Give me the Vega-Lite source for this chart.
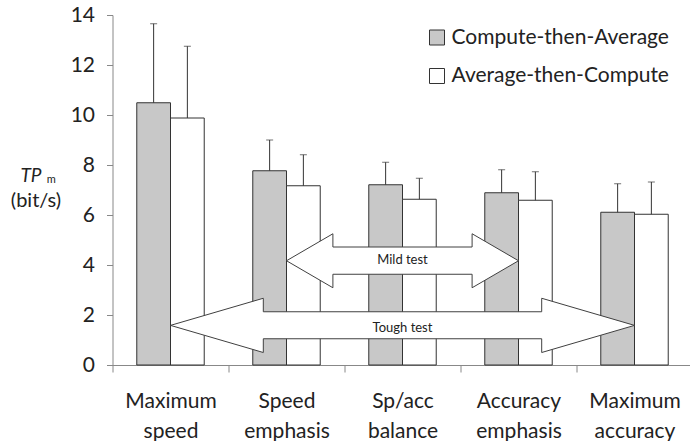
{
  "$schema": "https://vega.github.io/schema/vega-lite/v6.json",
  "width": 580,
  "height": 350,
  "padding": {"left": 9.5, "top": 4, "right": 0, "bottom": 0},
  "background": "white",
  "config": {
    "view": {"stroke": null},
    "font": "Lato",
    "axis": {"labelFont": "Lato", "titleFont": "Lato"},
    "legend": {"labelFont": "Lato"}
  },
  "datasets": {
    "bars": [
      {"cat": "Maximum speed", "series": "Compute-then-Average", "value": 10.49, "err": 13.65},
      {"cat": "Maximum speed", "series": "Average-then-Compute", "value": 9.88, "err": 12.75},
      {"cat": "Speed emphasis", "series": "Compute-then-Average", "value": 7.77, "err": 9.0},
      {"cat": "Speed emphasis", "series": "Average-then-Compute", "value": 7.17, "err": 8.41},
      {"cat": "Sp/acc balance", "series": "Compute-then-Average", "value": 7.21, "err": 8.11},
      {"cat": "Sp/acc balance", "series": "Average-then-Compute", "value": 6.63, "err": 7.47},
      {"cat": "Accuracy emphasis", "series": "Compute-then-Average", "value": 6.89, "err": 7.81},
      {"cat": "Accuracy emphasis", "series": "Average-then-Compute", "value": 6.59, "err": 7.73},
      {"cat": "Maximum accuracy", "series": "Compute-then-Average", "value": 6.11, "err": 7.25},
      {"cat": "Maximum accuracy", "series": "Average-then-Compute", "value": 6.03, "err": 7.32}
    ],
    "arrows": [
      {"arrow": "Mild", "k": 1, "ax": 1.5, "ay": 4.17},
      {"arrow": "Mild", "k": 2, "ax": 1.9, "ay": 5.25},
      {"arrow": "Mild", "k": 3, "ax": 1.9, "ay": 4.72},
      {"arrow": "Mild", "k": 4, "ax": 3.1, "ay": 4.72},
      {"arrow": "Mild", "k": 5, "ax": 3.1, "ay": 5.25},
      {"arrow": "Mild", "k": 6, "ax": 3.5, "ay": 4.17},
      {"arrow": "Mild", "k": 7, "ax": 3.1, "ay": 3.09},
      {"arrow": "Mild", "k": 8, "ax": 3.1, "ay": 3.63},
      {"arrow": "Mild", "k": 9, "ax": 1.9, "ay": 3.63},
      {"arrow": "Mild", "k": 10, "ax": 1.9, "ay": 3.09},
      {"arrow": "Mild", "k": 11, "ax": 1.5, "ay": 4.17},
      {"arrow": "Tough", "k": 1, "ax": 0.5, "ay": 1.585},
      {"arrow": "Tough", "k": 2, "ax": 1.3, "ay": 2.67},
      {"arrow": "Tough", "k": 3, "ax": 1.3, "ay": 2.13},
      {"arrow": "Tough", "k": 4, "ax": 3.7, "ay": 2.13},
      {"arrow": "Tough", "k": 5, "ax": 3.7, "ay": 2.67},
      {"arrow": "Tough", "k": 6, "ax": 4.5, "ay": 1.585},
      {"arrow": "Tough", "k": 7, "ax": 3.7, "ay": 0.5},
      {"arrow": "Tough", "k": 8, "ax": 3.7, "ay": 1.05},
      {"arrow": "Tough", "k": 9, "ax": 1.3, "ay": 1.05},
      {"arrow": "Tough", "k": 10, "ax": 1.3, "ay": 0.5},
      {"arrow": "Tough", "k": 11, "ax": 0.5, "ay": 1.585}
    ],
    "arrowLabels": [
      {"label": "Mild test", "ax": 2.5, "ay": 4.2},
      {"label": "Tough test", "ax": 2.5, "ay": 1.5}
    ]
  },
  "layer": [
    {
      "data": {"name": "bars"},
      "encoding": {
        "x": {
          "field": "cat", "type": "nominal",
          "sort": ["Maximum speed", "Speed emphasis", "Sp/acc balance", "Accuracy emphasis", "Maximum accuracy"],
          "scale": {"paddingInner": 0, "paddingOuter": 0},
          "axis": {
            "title": null, "tickBand": "extent", "tickSize": 7, "labelPadding": 18,
            "labelLineHeight": 30, "labelFontSize": 21, "labelColor": "#222",
            "domainColor": "#888", "tickColor": "#888", "labelAngle": 0,
            "labelExpr": "split(datum.label, ' ')"
          }
        },
        "xOffset": {
          "field": "series", "type": "nominal",
          "scale": {"domain": ["Compute-then-Average", "Average-then-Compute"], "paddingInner": 0, "paddingOuter": 0.72}
        }
      },
      "layer": [
        {
          "mark": {"type": "bar", "stroke": "#333", "strokeWidth": 1},
          "encoding": {
            "y": {
              "field": "value", "type": "quantitative",
              "scale": {"domain": [0, 14], "nice": false},
              "axis": {
                "title": "(bit/s)", "titleAngle": 0, "titleAlign": "center", "titleBaseline": "alphabetic",
                "titleX": -77, "titleY": 191, "titleFontSize": 20, "titleFontWeight": "normal", "titleColor": "#222",
                "values": [0, 2, 4, 6, 8, 10, 12, 14], "tickSize": 6, "labelPadding": 12,
                "labelFontSize": 21, "labelColor": "#222", "domainColor": "#888", "tickColor": "#888", "grid": false
              }
            },
            "fill": {
              "field": "series", "type": "nominal",
              "scale": {"domain": ["Compute-then-Average", "Average-then-Compute"], "range": ["#c8c8c8", "#ffffff"]},
              "legend": {
                "title": null, "orient": "none", "legendX": 314, "legendY": 12, "padding": 0,
                "symbolType": "square", "symbolSize": 225, "symbolStrokeColor": "#333", "symbolStrokeWidth": 1,
                "labelFontSize": 21, "labelColor": "#222", "labelOffset": 4, "rowPadding": 16.5, "labelLimit": 0
              }
            }
          }
        },
        {
          "mark": {"type": "rule", "color": "#333", "strokeWidth": 1},
          "encoding": {"y": {"field": "value", "type": "quantitative"}, "y2": {"field": "err"}}
        },
        {
          "mark": {"type": "tick", "color": "#333", "size": 7, "thickness": 1},
          "encoding": {"y": {"field": "err", "type": "quantitative"}}
        }
      ]
    },
    {
      "mark": {"type": "rule", "color": "#888", "strokeWidth": 1},
      "encoding": {"y": {"datum": 14}}
    },
    {
      "data": {"name": "arrows"},
      "mark": {"type": "line", "fill": "white", "stroke": "#404040", "strokeWidth": 1, "strokeJoin": "miter"},
      "encoding": {
        "x": {"field": "ax", "type": "quantitative", "scale": {"domain": [0, 5], "nice": false, "zero": false}, "axis": null},
        "y": {"field": "ay", "type": "quantitative"},
        "detail": {"field": "arrow"},
        "order": {"field": "k"}
      }
    },
    {
      "data": {"name": "arrowLabels"},
      "mark": {"type": "text", "font": "Lato", "fontSize": 13, "color": "#222", "baseline": "middle", "align": "center"},
      "encoding": {
        "x": {"field": "ax", "type": "quantitative", "scale": {"domain": [0, 5], "nice": false, "zero": false}, "axis": null},
        "y": {"field": "ay", "type": "quantitative"},
        "text": {"field": "label"}
      }
    },
    {
      "data": {"values": [{"t": "TP"}]},
      "mark": {"type": "text", "font": "Lato", "fontSize": 19, "fontStyle": "italic", "color": "#222", "baseline": "alphabetic", "align": "center"},
      "encoding": {
        "x": {"datum": -0.703, "type": "quantitative", "scale": {"domain": [0, 5], "nice": false, "zero": false}, "axis": null},
        "y": {"datum": 7.32, "type": "quantitative"},
        "text": {"field": "t"}
      }
    },
    {
      "data": {"values": [{"t": "m"}]},
      "mark": {"type": "text", "font": "Lato", "fontSize": 11, "color": "#222", "baseline": "alphabetic", "align": "left"},
      "encoding": {
        "x": {"datum": -0.567, "type": "quantitative", "scale": {"domain": [0, 5], "nice": false, "zero": false}, "axis": null},
        "y": {"datum": 7.27, "type": "quantitative"},
        "text": {"field": "t"}
      }
    }
  ],
  "resolve": {"scale": {"x": "independent"}, "axis": {"x": "independent"}}
}
